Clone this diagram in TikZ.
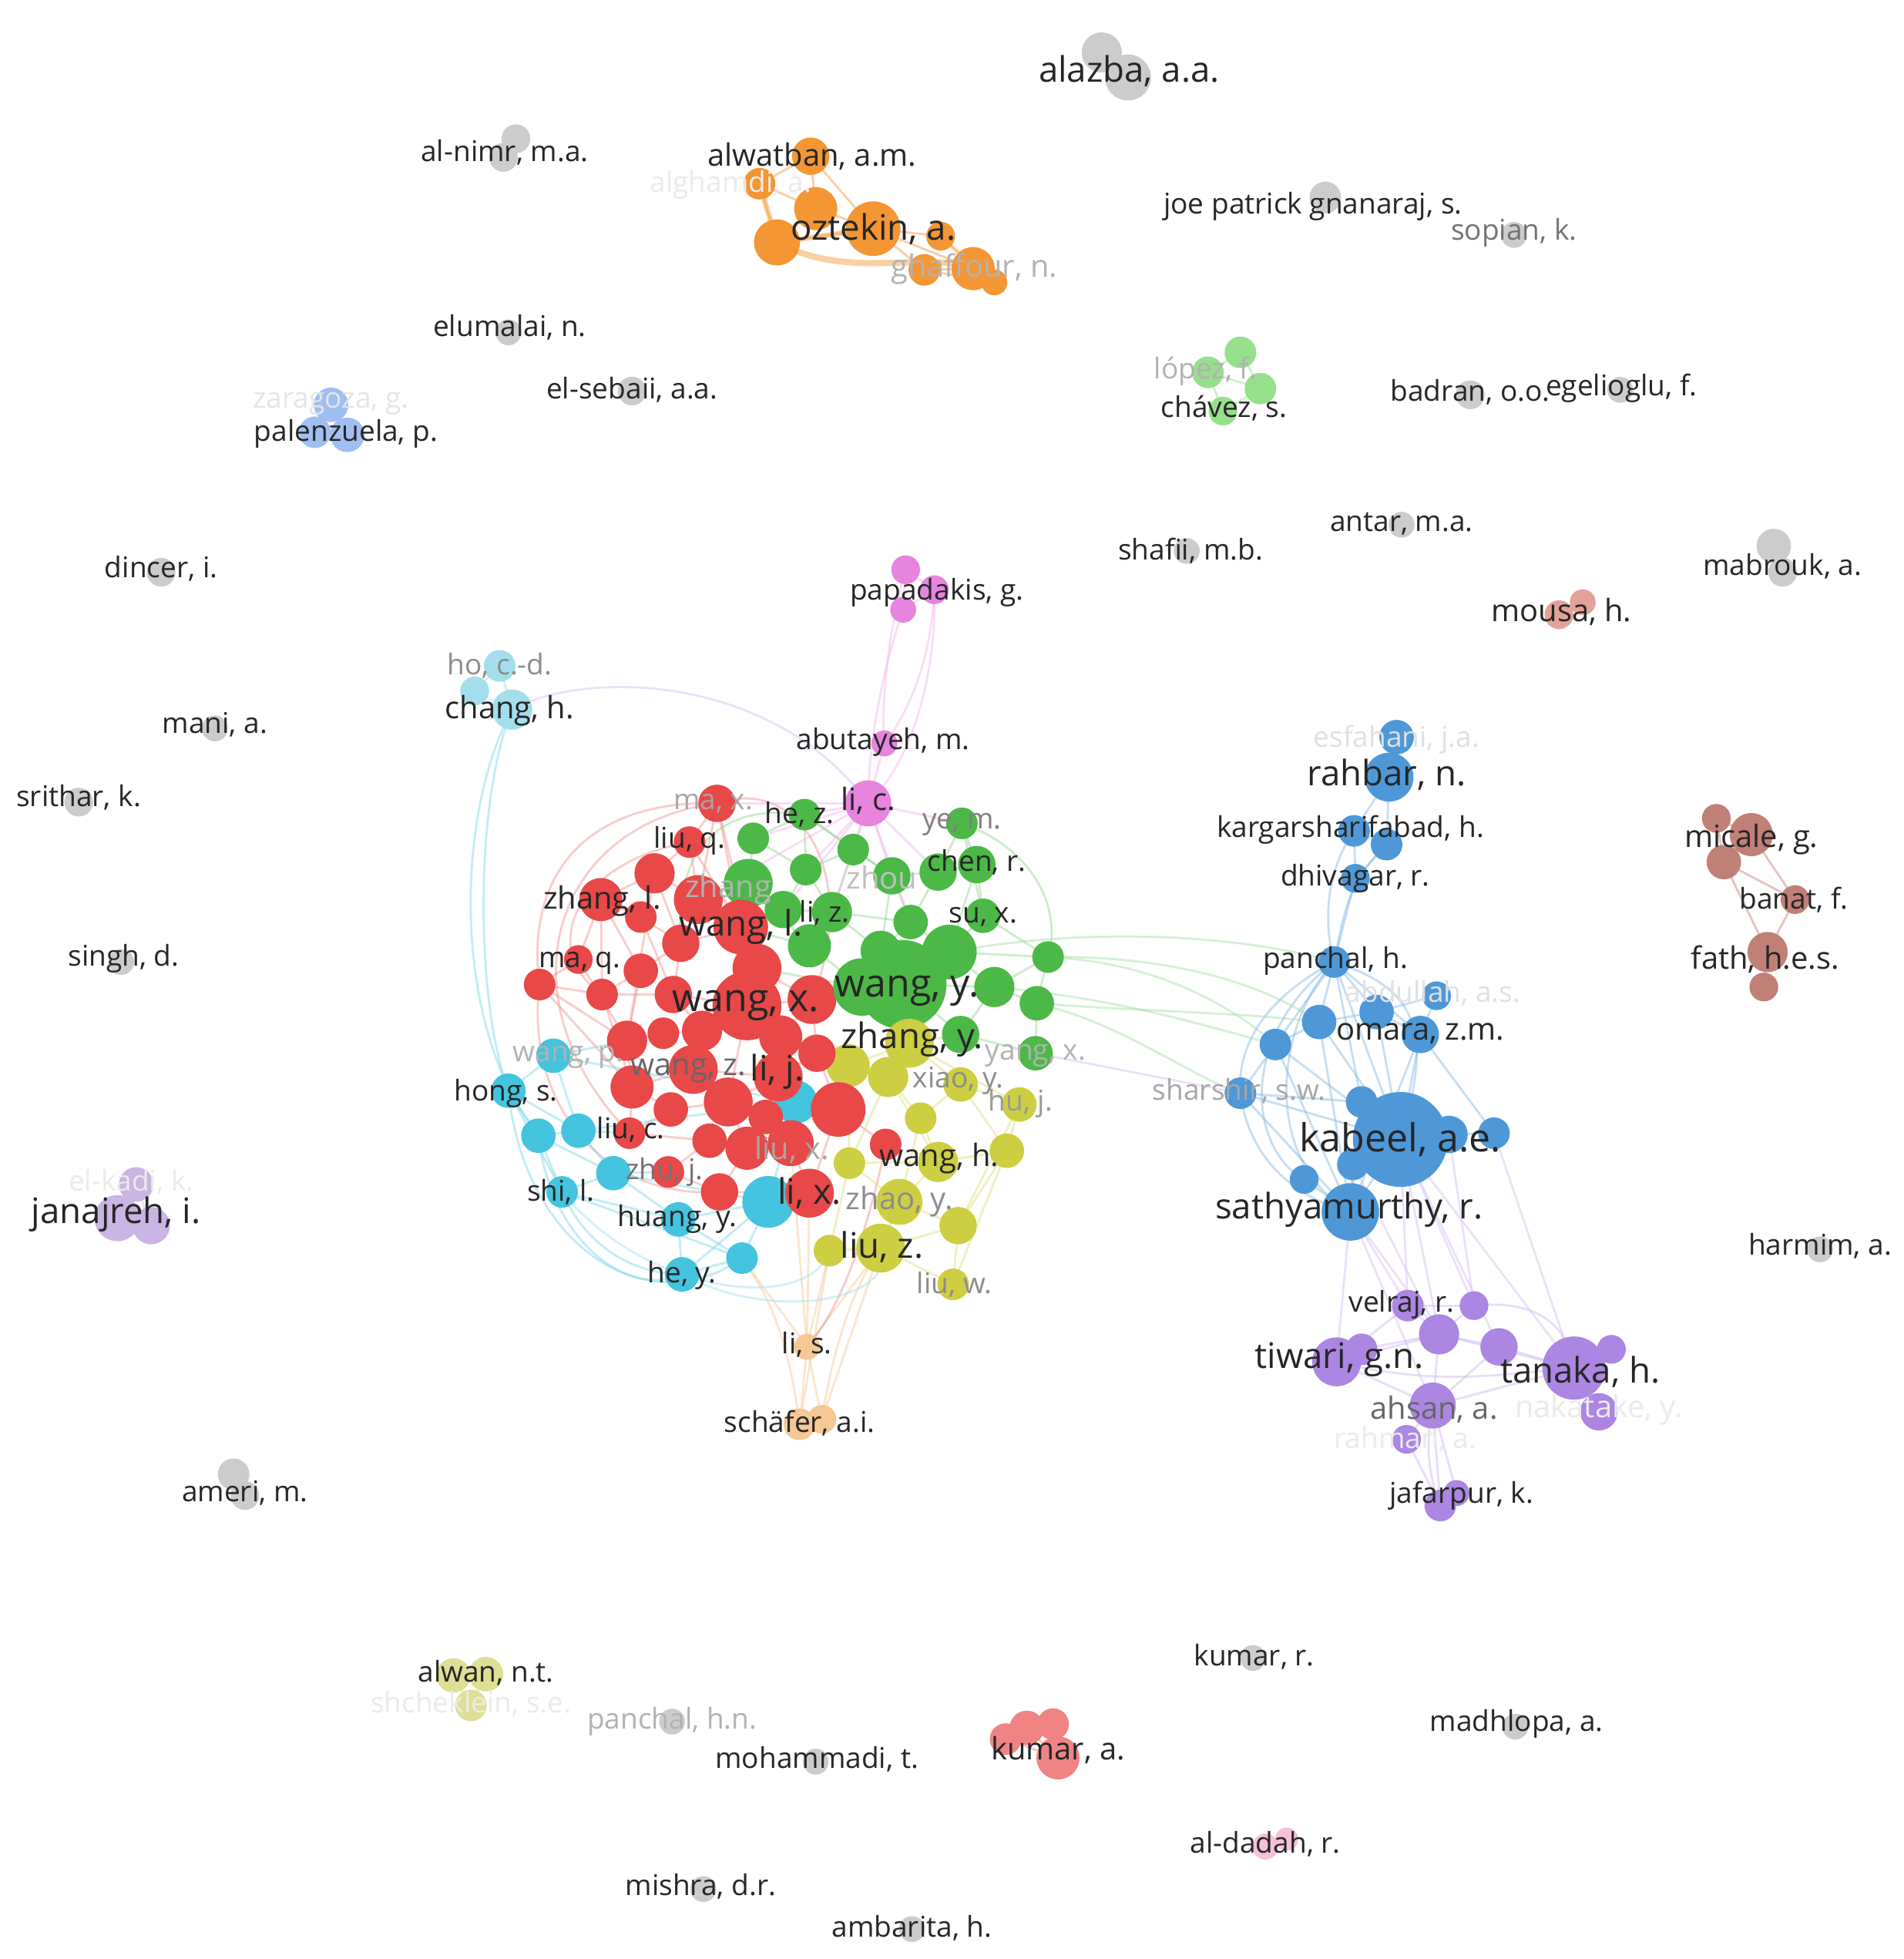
\documentclass[tikz,border=0pt]{standalone}
\usepackage{fontspec}
\setmainfont{Open Sans}
\pgfdeclarelayer{bgw}
\pgfdeclarelayer{edges}
\pgfsetlayers{bgw,edges,main}
\definecolor{cRed}{RGB}{232,72,72}
\definecolor{cGreen}{RGB}{76,184,72}
\definecolor{cBlue}{RGB}{78,152,216}
\definecolor{cYellow}{RGB}{206,206,66}
\definecolor{cPurple}{RGB}{172,134,226}
\definecolor{cCyan}{RGB}{68,196,222}
\definecolor{cOrange}{RGB}{244,150,52}
\definecolor{cPink}{RGB}{230,132,222}
\definecolor{cLGreen}{RGB}{150,224,140}
\definecolor{cBrown}{RGB}{192,128,118}
\definecolor{cLBlue}{RGB}{160,190,240}
\definecolor{cGrey}{RGB}{204,204,204}
\definecolor{cLilac}{RGB}{202,180,228}
\definecolor{cLCyan}{RGB}{164,222,236}
\definecolor{cPeach}{RGB}{245,200,150}
\definecolor{cPYellow}{RGB}{222,222,150}
\definecolor{cSalmon}{RGB}{240,132,132}
\definecolor{cLPink}{RGB}{245,192,216}
\definecolor{cMousa}{RGB}{226,162,152}
\definecolor{cLav}{RGB}{215,190,240}
\tikzset{
  bub/.style={circle, inner sep=0pt, outer sep=0pt, draw=none},
  lab/.style={inner sep=0pt, font=\fontsize{6.5}{7}\selectfont, text=black!85},
  labM/.style={lab, font=\fontsize{7}{8}\selectfont},
  labL/.style={lab, font=\fontsize{8}{9}\selectfont},
  labX/.style={lab, font=\fontsize{8.8}{10}\selectfont},
  gr/.style={text=black!#1},
  ed/.style={line width=0.5pt, draw opacity=0.45},
}
\newcommand\nb[5]{\node[bub, fill=#5, minimum size=#4*0.023cm] (#1) at (#2,#3) {};}
\newcommand\lb[5][]{\node[lab,#1] (#2) at (#3,#4) {#5};}
\newcommand\edgeset[2]{\foreach \a/\b in {#2} {\draw[ed,#1] (\a.center) -- (\b.center);}}
\begin{document}
\begin{tikzpicture}[x=0.01cm,y=-0.01cm]
\useasboundingbox (0,0) rectangle (1524,1568);
\begin{pgfonlayer}{bgw}
\fill[white] (0,0) rectangle (1524,1568);
\end{pgfonlayer}
% ---------------- isolated grey nodes
\nb{alz1}{882}{42}{14}{cGrey}\nb{alz2}{903}{62}{16}{cGrey}
\nb{nim1}{413}{111}{10}{cGrey}\nb{nim2}{403}{126}{10}{cGrey}
\nb{joe}{1061}{158}{11}{cGrey}
\nb{sop}{1212}{188}{9}{cGrey}
\nb{elu}{407}{266}{9}{cGrey}
\nb{els}{506}{313}{10}{cGrey}
\nb{bad}{1177}{316}{10}{cGrey}
\nb{ege}{1297}{312}{9}{cGrey}
\nb{din}{129}{458}{10}{cGrey}
\nb{sha}{950}{441}{9}{cGrey}
\nb{ant}{1122}{420}{9}{cGrey}
\nb{mab1}{1420}{437}{12}{cGrey}\nb{mab2}{1427}{458}{10}{cGrey}
\nb{man}{172}{583}{9}{cGrey}
\nb{sri}{63}{642}{10}{cGrey}
\nb{sin}{97}{770}{9}{cGrey}
\nb{har}{1457}{1000}{9}{cGrey}
\nb{ame1}{187}{1180}{11}{cGrey}\nb{ame2}{196}{1197}{10}{cGrey}
\nb{pnh}{538}{1378}{9}{cGrey}
\nb{moh}{653}{1410}{9}{cGrey}
\nb{kur}{1003}{1327}{9}{cGrey}
\nb{mad}{1213}{1382}{9}{cGrey}
\nb{mis}{563}{1512}{9}{cGrey}
\nb{amb}{730}{1544}{9}{cGrey}
% ---------------- small clusters
\nb{o1}{649}{125}{13}{cOrange}\nb{o2}{608}{147}{11}{cOrange}\nb{o3}{653}{167}{15}{cOrange}
\nb{o4}{622}{194}{16}{cOrange}\nb{o5}{699}{183}{19}{cOrange}\nb{o6}{753}{189}{10}{cOrange}
\nb{o7}{740}{216}{11}{cOrange}\nb{o8}{779}{215}{15}{cOrange}\nb{o9}{796}{226}{9}{cOrange}
\nb{lg1}{993}{282}{11}{cLGreen}\nb{lg2}{967}{298}{11}{cLGreen}\nb{lg3}{1009}{311}{11}{cLGreen}\nb{lg4}{979}{329}{10}{cLGreen}
\nb{pz1}{265}{324}{12}{cLBlue}\nb{pz2}{252}{346}{11}{cLBlue}\nb{pz3}{278}{348}{12}{cLBlue}
\nb{mo1}{1248}{492}{10}{cMousa}\nb{mo2}{1267}{482}{9}{cMousa}
\nb{pk2}{725}{456}{10}{cPink}\nb{pk3}{748}{472}{10}{cPink}\nb{pk4}{723}{488}{9}{cPink}
\nb{pk5}{708}{595}{9}{cPink}
\nb{ch1}{400}{533}{11}{cLCyan}\nb{ch2}{380}{553}{10}{cLCyan}\nb{ch3}{410}{568}{14}{cLCyan}
\nb{m1}{1374}{655}{10}{cBrown}\nb{m2}{1402}{668}{15}{cBrown}\nb{m3}{1380}{690}{12}{cBrown}
\nb{m4}{1437}{720}{10}{cBrown}\nb{m5}{1415}{762}{14}{cBrown}\nb{m6}{1412}{790}{10}{cBrown}
\nb{j1}{109}{948}{12}{cLilac}\nb{j2}{94}{975}{16}{cLilac}\nb{j3}{121}{981}{13}{cLilac}
\nb{aw1}{363}{1341}{12}{cPYellow}\nb{aw2}{389}{1340}{12}{cPYellow}\nb{aw3}{377}{1365}{11}{cPYellow}
\nb{ka1}{805}{1392}{11}{cSalmon}\nb{ka2}{822}{1383}{12}{cSalmon}\nb{ka3}{843}{1380}{11}{cSalmon}\nb{ka4}{847}{1407}{15}{cSalmon}
\nb{ad1}{1013}{1478}{9}{cLPink}\nb{ad2}{1030}{1472}{8}{cLPink}
\nb{pe1}{646}{1078}{9}{cPeach}\nb{pe2}{640}{1140}{11}{cPeach}\nb{pe3}{658}{1136}{10}{cPeach}
% ---------------- blue cluster
\nb{b1}{1118}{590}{12}{cBlue}\nb{b2}{1112}{622}{17}{cBlue}\nb{b3}{1084}{665}{11}{cBlue}
\nb{b4}{1110}{676}{11}{cBlue}\nb{b5}{1085}{703}{10}{cBlue}\nb{b6}{1068}{770}{11}{cBlue}
\nb{b7}{1150}{797}{10}{cBlue}\nb{b8}{1102}{810}{12}{cBlue}\nb{b9}{1056}{818}{12}{cBlue}
\nb{b10}{1137}{828}{13}{cBlue}\nb{b11}{1021}{836}{11}{cBlue}\nb{b12}{993}{875}{11}{cBlue}
\nb{b13}{1090}{882}{11}{cBlue}\nb{b15}{1160}{908}{13}{cBlue}\nb{b16}{1196}{907}{11}{cBlue}
\nb{b17}{1083}{932}{11}{cBlue}\nb{b18}{1044}{944}{10}{cBlue}\nb{b14}{1121}{912}{33}{cBlue}
\nb{b19}{1081}{970}{20}{cBlue}
% ---------------- purple cluster
\nb{p1}{1127}{1045}{11}{cPurple}\nb{p2}{1180}{1045}{10}{cPurple}\nb{p3}{1152}{1068}{14}{cPurple}
\nb{p4}{1200}{1078}{13}{cPurple}\nb{p6}{1090}{1080}{11}{cPurple}\nb{p5}{1070}{1090}{17}{cPurple}
\nb{p8}{1290}{1080}{10}{cPurple}\nb{p9}{1280}{1130}{13}{cPurple}\nb{p7}{1260}{1095}{22}{cPurple}
\nb{p10}{1147}{1125}{16}{cPurple}\nb{p11}{1126}{1152}{10}{cPurple}
\nb{p12}{1153}{1205}{11}{cPurple}\nb{p13}{1166}{1195}{9}{cPurple}
% ---------------- central: cyan
\nb{c1}{443}{845}{12}{cCyan}\nb{c2}{407}{873}{12}{cCyan}\nb{c3}{431}{909}{12}{cCyan}
\nb{c4}{463}{905}{12}{cCyan}\nb{c5}{491}{939}{12}{cCyan}\nb{c6}{450}{954}{11}{cCyan}
\nb{c7}{543}{976}{12}{cCyan}\nb{c8}{546}{1020}{12}{cCyan}\nb{c9}{594}{1007}{11}{cCyan}
% red
\nb{R1}{574}{643}{13}{cRed}\nb{R2}{552}{674}{11}{cRed}\nb{R3}{524}{699}{14}{cRed}
\nb{R4}{481}{720}{15}{cRed}\nb{R5}{513}{734}{11}{cRed}\nb{R6}{559}{720}{17}{cRed}
\nb{R8}{545}{755}{13}{cRed}\nb{R9}{513}{777}{12}{cRed}\nb{R10}{463}{768}{10}{cRed}
\nb{R11}{432}{788}{11}{cRed}\nb{R12}{482}{796}{11}{cRed}\nb{R14}{539}{796}{13}{cRed}
\nb{R17}{502}{833}{14}{cRed}\nb{R18}{531}{827}{11}{cRed}\nb{R19}{562}{825}{14}{cRed}
\nb{R21}{506}{870}{15}{cRed}\nb{R22}{537}{888}{12}{cRed}\nb{R27}{504}{907}{11}{cRed}
\nb{R31}{535}{938}{11}{cRed}\nb{R28}{568}{913}{12}{cRed}\nb{R32}{576}{954}{13}{cRed}
\nb{R23}{555}{856}{17}{cRed}\nb{R24}{583}{882}{17}{cRed}\nb{R29}{598}{919}{15}{cRed}
% green
\nb{G1}{644}{652}{11}{cGreen}\nb{G2}{770}{659}{11}{cGreen}\nb{G3}{603}{671}{11}{cGreen}
\nb{G4}{683}{680}{11}{cGreen}\nb{G5}{645}{696}{11}{cGreen}\nb{G6}{714}{701}{13}{cGreen}
\nb{G7}{751}{698}{13}{cGreen}\nb{G8}{782}{692}{13}{cGreen}\nb{G9}{599}{707}{17}{cGreen}
\nb{G10}{627}{728}{13}{cGreen}\nb{G11}{666}{730}{14}{cGreen}\nb{G12}{729}{738}{12}{cGreen}
\nb{G13}{787}{733}{12}{cGreen}\nb{G17}{839}{766}{11}{cGreen}\nb{G21}{830}{803}{12}{cGreen}
\nb{G23}{829}{843}{12}{cGreen}\nb{G22}{769}{828}{13}{cGreen}\nb{G20}{796}{790}{14}{cGreen}
\nb{G16}{760}{762}{19}{cGreen}\nb{G15}{705}{761}{14}{cGreen}
\nb{R7}{593}{742}{19}{cRed}\nb{G14}{648}{757}{15}{cGreen}
\nb{R13}{606}{775}{17}{cRed}\nb{R16}{650}{800}{17}{cRed}\nb{R20}{625}{830}{15}{cRed}
\nb{R15}{598}{805}{24}{cRed}
\nb{G18}{690}{790}{20}{cGreen}\nb{G19}{722}{788}{31}{cGreen}
% yellow
\nb{Y2}{679}{853}{15}{cYellow}\nb{Y3}{711}{862}{14}{cYellow}\nb{Y4}{769}{868}{12}{cYellow}
\nb{Y5}{816}{884}{12}{cYellow}\nb{Y6}{737}{895}{11}{cYellow}\nb{Y8}{806}{921}{12}{cYellow}
\nb{Y9}{680}{931}{11}{cYellow}\nb{Y7}{751}{930}{14}{cYellow}\nb{Y11}{767}{981}{13}{cYellow}
\nb{Y10}{720}{962}{16}{cYellow}\nb{Y13}{664}{1001}{11}{cYellow}\nb{Y12}{705}{999}{17}{cYellow}
\nb{Y14}{763}{1028}{11}{cYellow}\nb{Y1}{728}{835}{17}{cYellow}
\nb{R34}{654}{843}{13}{cRed}\nb{c11}{637}{882}{15}{cCyan}
\nb{R25}{623}{862}{17}{cRed}\nb{R26}{613}{894}{12}{cRed}
\nb{R35}{671}{888}{19}{cRed}\nb{R36}{709}{916}{11}{cRed}
\nb{R30}{633}{915}{16}{cRed}
\nb{c10}{615}{962}{18}{cCyan}\nb{R33}{648}{955}{17}{cRed}
\nb{pk1}{695}{643}{16}{cPink}
% ---------------- edges
\begin{pgfonlayer}{edges}
\edgeset{cOrange}{o1/o2,o1/o3,o1/o5,o2/o4,o2/o3,o3/o5,o4/o5,o4/o3,o5/o6,o5/o7,o5/o8,o6/o8,o7/o8,o8/o9,o6/o9,o7/o9}
\draw[ed,cOrange,line width=1.4pt] (o4.center) .. controls (680,225) and (740,200) .. (o8.center);
\draw[ed,cOrange,line width=1.2pt] (o2.center) -- (o4.center);
\draw[ed,cOrange,line width=1.2pt] (o4.center) -- (o5.center);
\edgeset{cLGreen}{lg1/lg2,lg1/lg3,lg2/lg4,lg3/lg4,lg2/lg3}
\edgeset{cLBlue}{pz1/pz2,pz1/pz3,pz2/pz3}
\edgeset{cBrown}{m1/m2,m1/m3,m2/m3,m2/m4,m3/m5,m4/m5,m5/m6,m3/m4}
\edgeset{cLilac}{j1/j2,j1/j3,j2/j3}
\edgeset{cPYellow}{aw1/aw2,aw1/aw3,aw2/aw3}
\edgeset{cSalmon}{ka1/ka2,ka2/ka3,ka3/ka4,ka1/ka4,ka2/ka4}
\edgeset{cLPink}{ad1/ad2}
\edgeset{cMousa}{mo1/mo2}
\edgeset{cGrey}{alz1/alz2,nim1/nim2,mab1/mab2,ame1/ame2}
\edgeset{cLCyan}{ch1/ch2,ch1/ch3,ch2/ch3}
\edgeset{cPeach}{pe1/pe2,pe1/pe3,pe2/pe3,pe1/Y13,pe1/Y12,pe1/R33,pe1/c9,pe3/Y12,pe2/Y13,pe1/R30}
\draw[ed,cPeach] (pe2.center) .. controls (630,1060) and (610,1030) .. (c9.center);
\draw[ed,cPeach] (pe3.center) .. controls (670,1060) and (690,1020) .. (Y12.center);
% blue
\edgeset{cBlue!70}{b1/b2,b2/b3,b2/b4,b3/b4,b3/b5,b4/b5,b5/b6,b6/b9,b6/b11,b6/b8,b6/b10,b6/b14,b9/b8,b9/b11,b8/b10,b7/b10,b10/b14,b11/b12,b11/b14,b12/b14,b12/b19,b9/b19,b9/b14,b13/b14,b14/b15,b15/b16,b14/b19,b17/b19,b18/b19,b11/b19,b10/b19,b8/b14,b12/b13,b13/b19,b7/b8,b10/b16,b6/b13}
\draw[ed,cBlue!70] (b3.center) .. controls (1060,700) and (1060,740) .. (b6.center);
\draw[ed,cBlue!70] (b4.center) .. controls (1075,710) and (1075,740) .. (b6.center);
\draw[ed,cBlue!70] (b6.center) .. controls (1010,800) and (990,840) .. (b12.center);
\draw[ed,cBlue!70] (b6.center) .. controls (990,830) and (1000,920) .. (b18.center);
\draw[ed,cBlue!70] (b6.center) .. controls (1020,820) and (1010,930) .. (b19.center);
\draw[ed,cBlue!70] (b6.center) .. controls (1130,790) and (1150,820) .. (b14.center);
\draw[ed,cBlue!70] (b12.center) .. controls (1000,930) and (1040,960) .. (b19.center);
% purple
\edgeset{cPurple!60}{p1/p3,p2/p3,p3/p4,p3/p5,p3/p10,p4/p7,p5/p10,p6/p3,p4/p10,p10/p12,p10/p13,p11/p10,p10/p7,p3/p7,p7/p8,p7/p9,p11/p12,p1/p5,p1/p2}
\draw[ed,cPurple!60] (p2.center) .. controls (1230,1040) and (1255,1060) .. (p7.center);
\draw[ed,cPurple!60] (p5.center) .. controls (1150,1110) and (1200,1100) .. (p7.center);
\draw[ed,cPurple!60] (p10.center) .. controls (1140,1160) and (1145,1185) .. (p12.center);
\edgeset{cLav}{b14/p1,b14/p3,b14/p7,b19/p1,b19/p3,b19/p5,b19/p10,b14/p4,b17/p3,b15/p2,b14/p2,b16/p7}
% central red
\edgeset{cRed!60}{R1/R2,R1/R6,R1/R7,R2/R3,R2/R6,R3/R4,R3/R6,R4/R5,R4/R10,R4/R9,R5/R8,R6/R7,R7/R8,R7/R13,R7/R15,R8/R9,R9/R12,R10/R11,R11/R12,R11/R17,R12/R14,R13/R15,R13/R16,R14/R15,R14/R19,R15/R19,R15/R20,R15/R16,R16/R20,R17/R18,R17/R21,R18/R19,R19/R23,R20/R25,R21/R22,R21/R23,R22/R24,R23/R24,R23/R25,R24/R25,R24/R26,R25/R26,R26/R29,R27/R28,R28/R29,R29/R30,R30/R33,R31/R32,R32/R33,R33/R35,R34/R35,R35/R36,R25/R34,R16/R34,R3/R17,R8/R14,R10/R17,R2/R7,R6/R13,R15/R24,R24/R29,R29/R32,R28/R31,R27/R22,R21/R27,R1/R13,R4/R12,R5/R14,R3/R8,R9/R17,R11/R21,R12/R21}
\draw[ed,cRed!60] (R1.center) .. controls (470,640) and (420,700) .. (R11.center);
\draw[ed,cRed!60] (R1.center) .. controls (440,660) and (400,800) .. (R27.center);
\draw[ed,cRed!60] (R2.center) .. controls (460,690) and (430,760) .. (R12.center);
\draw[ed,cRed!60] (R11.center) .. controls (420,880) and (480,960) .. (R32.center);
\draw[ed,cRed!60] (R1.center) .. controls (640,620) and (690,700) .. (R16.center);
\draw[ed,cRed!60] (R36.center) .. controls (700,960) and (680,1040) .. (pe1.center);
% green
\edgeset{cGreen!60}{G1/G3,G1/G4,G1/G5,G3/G9,G4/G6,G4/G5,G5/G10,G6/G7,G7/G8,G2/G8,G2/G7,G6/G12,G8/G13,G9/G10,G10/G11,G11/G12,G11/G14,G12/G16,G13/G16,G14/G18,G15/G19,G16/G19,G18/G19,G16/G20,G20/G21,G17/G20,G17/G21,G21/G23,G22/G23,G19/G22,G12/G15,G11/G15,G13/G17,G2/G13,G5/G11,G9/G14,G3/G5,G6/G15,G16/G17,G19/G20,G8/G16,G9/R6,G10/R7,G14/R7,G18/R13,G18/R16,G1/G6,G4/G11,G7/G12,G20/G22}
\draw[ed,cGreen!60] (G2.center) .. controls (830,680) and (850,730) .. (G17.center);
\draw[ed,cGreen!60] (G1.center) .. controls (560,640) and (540,700) .. (R8.center);
\draw[ed,cGreen!50] (G17.center) .. controls (920,770) and (980,800) .. (b11.center);
\draw[ed,cGreen!50] (G17.center) .. controls (920,765) and (1000,780) .. (b9.center);
\draw[ed,cGreen!50] (G20.center) .. controls (900,800) and (960,820) .. (b11.center);
\draw[ed,cGreen!50] (G21.center) .. controls (900,820) and (950,860) .. (b12.center);
\draw[ed,cGreen!50] (G16.center) .. controls (880,740) and (1000,750) .. (b6.center);
\draw[ed,cGreen!50] (G21.center) .. controls (920,810) and (990,810) .. (b9.center);
\draw[ed,cLav] (G23.center) -- (b12.center);
% pink
\edgeset{cPink!60}{pk1/G1,pk1/G4,pk1/G6,pk1/G7,pk1/R1,pk1/G3,pk1/G11,pk1/G5,pk1/pk5,pk1/G2,pk1/G12,pk2/pk3,pk2/pk4,pk3/pk4,pk1/G10,pk1/R6}
\draw[ed,cPink!60] (pk4.center) .. controls (705,540) and (695,600) .. (pk1.center);
\draw[ed,cPink!60] (pk3.center) .. controls (750,540) and (730,610) .. (pk1.center);
\draw[ed,cPink!60] (pk2.center) .. controls (712,500) and (705,560) .. (pk5.center);
\draw[ed,cPink!60] (pk3.center) .. controls (745,540) and (720,580) .. (pk5.center);
\draw[ed,cLav] (ch3.center) .. controls (470,535) and (620,540) .. (pk1.center);
% yellow
\edgeset{cYellow!70}{Y1/Y2,Y1/Y3,Y1/Y4,Y2/Y3,Y3/Y6,Y4/Y5,Y4/Y6,Y5/Y8,Y6/Y7,Y7/Y8,Y7/Y9,Y7/Y10,Y9/Y10,Y10/Y11,Y10/Y12,Y11/Y12,Y12/Y13,Y11/Y14,Y12/Y14,Y8/Y11,Y2/Y9,Y3/Y7,Y13/Y9,Y1/Y5,Y4/Y8,Y8/Y14,Y5/Y11,Y1/G19,Y1/G22,Y2/R35,Y3/R34,Y6/Y10,Y3/Y9}
% cyan
\edgeset{cCyan!70}{c1/c2,c1/c4,c2/c3,c2/c4,c3/c4,c3/c6,c4/c5,c5/c6,c5/c7,c6/c7,c7/c8,c7/c9,c8/c9,c9/c10,c10/c11,c7/c10,c2/c6,c1/c11,c4/c11,c5/c10,c8/c10,c6/c9,c1/R17,c4/R27,c5/R31,c11/R25,c3/c5}
\draw[ed,cCyan!70] (c6.center) .. controls (470,1000) and (510,1020) .. (c8.center);
\draw[ed,cCyan!70] (c3.center) .. controls (440,990) and (500,1040) .. (c8.center);
\draw[ed,cCyan!70] (c2.center) .. controls (420,1000) and (520,1060) .. (c9.center);
\draw[ed,cCyan!70] (ch3.center) .. controls (365,650) and (360,820) .. (c3.center);
\draw[ed,cCyan!70] (ch3.center) .. controls (380,640) and (380,800) .. (c2.center);
\draw[ed,cCyan!50] (c8.center) .. controls (620,1060) and (720,1040) .. (Y12.center);
\draw[ed,cCyan!50] (c6.center) .. controls (520,1040) and (650,1050) .. (Y13.center);
\end{pgfonlayer}
% ---------------- labels
\lb[labL]{Lalz}{904}{57}{alazba, a.a.}
\lb{Lnim}{404}{122}{al-nimr, m.a.}
\lb{Ljoe}{1051}{165}{joe patrick gnanaraj, s.}
\lb[gr=55]{Lsop}{1212}{186}{sopian, k.}
\lb{Lelu}{408}{262}{elumalai, n.}
\lb{Lels}{506}{312}{el-sebaii, a.a.}
\lb{Lbad}{1177}{314}{badran, o.o.}
\lb{Lege}{1298}{311}{egelioglu, f.}
\lb{Ldin}{129}{455}{dincer, i.}
\lb{Lsha}{953}{441}{shafii, m.b.}
\lb{Lant}{1122}{419}{antar, m.a.}
\lb{Lmab}{1427}{453}{mabrouk, a.}
\lb{Lman}{172}{580}{mani, a.}
\lb{Lsri}{63}{638}{srithar, k.}
\lb{Lsin}{99}{767}{singh, d.}
\lb{Lhar}{1457}{997}{harmim, a.}
\lb{Lame}{196}{1195}{ameri, m.}
\lb[gr=30]{Lpnh}{538}{1378}{panchal, h.n.}
\lb{Lmoh}{654}{1408}{mohammadi, t.}
\lb{Lkur}{1004}{1326}{kumar, r.}
\lb{Lmad}{1214}{1380}{madhlopa, a.}
\lb{Lmis}{561}{1510}{mishra, d.r.}
\lb{Lamb}{730}{1543}{ambarita, h.}
\lb[labM]{Lalw}{650}{125}{alwatban, a.m.}
\lb[gr=8]{Lalg}{585}{148}{alghamdi, a.}
\lb[labL]{Lozt}{699}{183}{oztekin, a.}
\lb[labM,gr=30]{Lgha}{780}{215}{ghaffour, n.}
\lb[gr=30]{Llop}{965}{297}{lópez, f.}
\lb{Lcha}{980}{327}{chávez, s.}
\lb[gr=10]{Lzar}{265}{323}{zaragoza, g.}
\lb{Lpal}{277}{347}{palenzuela, p.}
\lb[labM]{Lmou}{1250}{490}{mousa, h.}
\lb{Lpap}{750}{474}{papadakis, g.}
\lb[gr=45]{Lho}{400}{533}{ho, c.-d.}
\lb[labM]{Lchg}{408}{569}{chang, h.}
\lb{Labu}{707}{594}{abutayeh, m.}
\lb[labM]{Lmic}{1402}{672}{micale, g.}
\lb{Lban}{1436}{720}{banat, f.}
\lb[labM]{Lfat}{1413}{768}{fath, h.e.s.}
\lb[gr=8]{Lelk}{105}{946}{el-kadi, k.}
\lb[labL]{Ljan}{93}{972}{janajreh, i.}
\lb{Lalwn}{389}{1339}{alwan, n.t.}
\lb[gr=8]{Lshc}{377}{1364}{shcheklein, s.e.}
\lb[labM]{Lkua}{847}{1401}{kumar, a.}
\lb{Ladd}{1013}{1476}{al-dadah, r.}
% blue labels
\lb[gr=12]{Lesf}{1118}{592}{esfahani, j.a.}
\lb[labL]{Lrah}{1110}{620}{rahbar, n.}
\lb{Lkar}{1081}{664}{kargarsharifabad, h.}
\lb{Ldhi}{1085}{703}{dhivagar, r.}
\lb{Lpan}{1069}{769}{panchal, h.}
\lb[gr=12]{Labd}{1147}{795}{abdullah, a.s.}
\lb[labM]{Loma}{1137}{827}{omara, z.m.}
\lb[gr=35]{Lshr}{992}{873}{sharshir, s.w.}
\lb[labX]{Lkab}{1121}{912}{kabeel, a.e.}
\lb[labL]{Lsat}{1080}{968}{sathyamurthy, r.}
% purple labels
\lb{Lvel}{1122}{1044}{velraj, r.}
\lb[labL]{Ltiw}{1072}{1088}{tiwari, g.n.}
\lb[labL]{Ltan}{1265}{1098}{tanaka, h.}
\lb[labM,gr=60]{Lahs}{1148}{1128}{ahsan, a.}
\lb[labM,gr=8]{Lnak}{1280}{1128}{nakatake, y.}
\lb[gr=8]{Lrhm}{1125}{1152}{rahman, a.}
\lb{Ljaf}{1170}{1197}{jafarpur, k.}
% central labels
\lb[gr=35]{Lmax}{571}{643}{ma, x.}
\lb{Lhez}{640}{652}{he, z.}
\lb[labM]{Llic}{695}{641}{li, c.}
\lb[gr=50]{Lyem}{770}{660}{ye, m.}
\lb{Lliq}{552}{673}{liu, q.}
\lb[labM,gr=25]{Lzhou}{706}{702}{zhou}
\lb{Lche}{782}{690}{chen, r.}
\lb[labM]{Lzhl}{482}{721}{zhang, l.}
\lb[labM,gr=30]{Lzhg}{583}{712}{zhang}
\lb{Lliz}{660}{731}{li, z.}
\lb[labL]{Lwal}{593}{742}{wang, l.}
\lb{Lsux}{787}{734}{su, x.}
\lb{Lmaq}{464}{771}{ma, q.}
\lb[labX]{Lway}{726}{793}{wang, y.}
\lb[labX]{Lwax}{597}{805}{wang, x.}
\lb[labL]{Lzhy}{730}{832}{zhang, y.}
\lb[gr=30]{Lwap}{455}{846}{wang, p.}
\lb[labM,gr=60]{Lwaz}{551}{857}{wang, z.}
\lb[labL]{Llij}{622}{858}{li, j.}
\lb[gr=30]{Lyax}{829}{845}{yang, x.}
\lb[gr=45]{Lxia}{767}{865}{xiao, y.}
\lb{Lhon}{405}{875}{hong, s.}
\lb[gr=40]{Lhuj}{817}{883}{hu, j.}
\lb{Lliuc}{505}{904}{liu, c.}
\lb[labM,gr=35]{Lliux}{634}{920}{liu, x.}
\lb[labM]{Lwah}{752}{927}{wang, h.}
\lb[gr=55]{Lzhj}{532}{938}{zhu, j.}
\lb{Lshi}{449}{954}{shi, l.}
\lb[labL]{Llix}{648}{955}{li, x.}
\lb[labM,gr=45]{Lzha}{720}{962}{zhao, y.}
\lb{Lhua}{542}{976}{huang, y.}
\lb[labL]{Lliuz}{706}{998}{liu, z.}
\lb{Lhey}{546}{1021}{he, y.}
\lb[gr=45]{Lliw}{764}{1028}{liu, w.}
\lb{Llis}{646}{1076}{li, s.}
\lb{Lsch}{640}{1139}{schäfer, a.i.}
\end{tikzpicture}
\end{document}
